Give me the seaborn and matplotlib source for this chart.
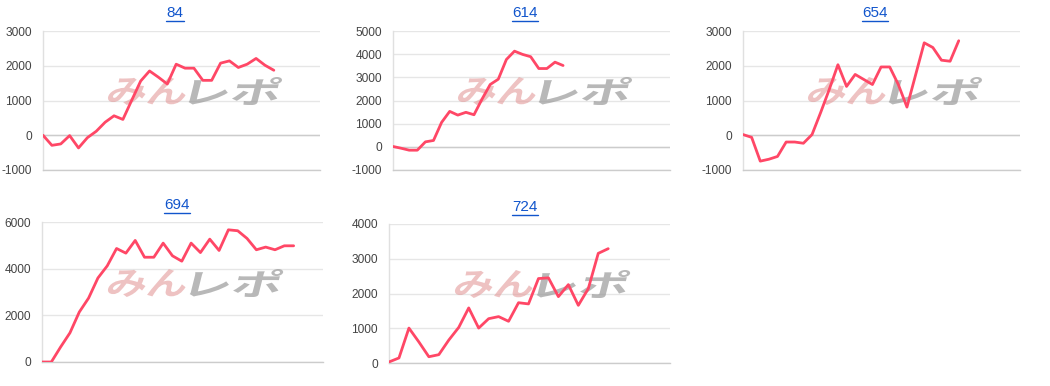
import matplotlib
matplotlib.use('Agg')
import matplotlib.pyplot as plt
import seaborn as sns
import pandas as pd
from matplotlib.textpath import TextPath
from matplotlib.patches import PathPatch
from matplotlib.font_manager import FontProperties
from matplotlib.transforms import Affine2D
from matplotlib.lines import Line2D

# ---- data ----
titles = ['84', '614', '654', '694', '724']
s84 = [0, -290, -250, -10, -365, -70, 115, 375, 560, 455, 1010, 1560, 1850, 1670,
       1475, 2045, 1930, 1930, 1580, 1580, 2075, 2140, 1950, 2045, 2210, 2015, 1870]
s614 = [15, -60, -145, -145, 215, 275, 1055, 1530, 1370, 1490, 1385, 2065, 2690,
        2920, 3770, 4130, 3990, 3890, 3380, 3380, 3655, 3510]
s654 = [20, -60, -745, -690, -610, -195, -195, -230, 20, 655, 1320, 2030, 1405,
        1750, 1605, 1460, 1965, 1965, 1460, 810, 1735, 2660, 2525, 2160, 2130, 2720]
s694 = [0, 0, 645, 1250, 2140, 2740, 3600, 4120, 4865, 4665, 5210, 4490, 4490,
        5095, 4550, 4320, 5095, 4690, 5265, 4780, 5665, 5625, 5295, 4810, 4925,
        4810, 4980, 4980]
s724 = [30, 145, 1005, 605, 180, 240, 660, 1025, 1585, 1005, 1275, 1335, 1200,
        1735, 1700, 2430, 2450, 1910, 2255, 1660, 2140, 3155, 3290]
series = [s84, s614, s654, s694, s724]
yticks = [[-1000, 0, 1000, 2000, 3000],
          [-1000, 0, 1000, 2000, 3000, 4000, 5000],
          [-1000, 0, 1000, 2000, 3000],
          [0, 2000, 4000, 6000],
          [0, 1000, 2000, 3000, 4000]]
xspan = [31.2, 34.2, 32.1, 30.15, 28.2]

# ---- layout (pixels) ----
W, H = 1050, 386
boxes = [(43, 320, 31, 170), (393, 670, 31, 170), (743, 1020, 31, 170),
         (42, 323, 222, 362), (389, 670, 224, 363)]
title_pos = [(175, 13), (525, 13), (875, 13), (177, 205), (525, 207)]

sns.set_theme(style='white')
plt.rcParams['font.family'] = ['Liberation Sans', 'DejaVu Sans']

fig = plt.figure(figsize=(W / 100, H / 100), dpi=100)
fig.patch.set_facecolor('white')

line_color = '#ff4766'
wm_font = FontProperties(family='Noto Sans CJK JP', weight='bold')


def add_logo(ax, text, x_px, y_px, w_px, h_px, axw, axh, color, alpha):
    tp = TextPath((0, 0), text, size=1, prop=wm_font)
    ext = tp.get_extents()
    tr = (Affine2D().translate(-ext.x0, -ext.y0)
          .scale(w_px / ext.width, h_px / ext.height)
          .skew_deg(14, 0)
          .translate(x_px - h_px * 0.12, y_px)
          .scale(1 / axw, 1 / axh))
    path = tr.transform_path(tp)
    patch = PathPatch(path, facecolor=color, edgecolor='none', alpha=alpha,
                      transform=ax.transAxes, zorder=1)
    ax.add_patch(patch)


title_texts = []
for i, (l, r, t, b) in enumerate(boxes):
    ax = fig.add_axes([l / W, 1 - b / H, (r - l) / W, (b - t) / H])
    ys = series[i]
    df = pd.DataFrame({'x': list(range(len(ys))), 'y': ys})
    sns.lineplot(data=df, x='x', y='y', ax=ax, color=line_color, linewidth=2.0,
                 zorder=3)
    ax.set_xlim(0, xspan[i])
    ax.set_ylim(yticks[i][0], yticks[i][-1])
    ax.set_yticks(yticks[i])
    ax.set_yticklabels([str(v) for v in yticks[i]])
    ax.set_xticks([])
    ax.set_xlabel('')
    ax.set_ylabel('')
    ax.tick_params(axis='y', length=0, pad=8, labelsize=8.6, labelcolor='#444444')
    ax.grid(axis='y', color='#e6e6e6', linewidth=1.0)
    ax.set_axisbelow(True)
    for s in ['top', 'right']:
        ax.spines[s].set_visible(False)
    ax.spines['left'].set_color('#e0e0e0')
    ax.spines['left'].set_linewidth(1.0)
    ax.spines['bottom'].set_color('#cccccc')
    ax.spines['bottom'].set_linewidth(1.0)
    if yticks[i][0] < 0:
        ax.axhline(0, color='#cccccc', linewidth=1.0, zorder=2)
    ax.set_facecolor('white')
    axw, axh = r - l, b - t
    add_logo(ax, 'みん', 0.24 * axw, 65, 77, 28, axw, axh, '#e39a9a', 0.6)
    add_logo(ax, 'レポ', 0.535 * axw, 65, 88, 28, axw, axh, '#9a9a9a', 0.7)
    tx, ty = title_pos[i]
    tt = fig.text(tx / W, 1 - ty / H, titles[i], ha='center', va='center',
                  fontsize=11, color='#1155cc')
    title_texts.append(tt)

fig.canvas.draw()
renderer = fig.canvas.get_renderer()
for tt in title_texts:
    bb = tt.get_window_extent(renderer)
    y = bb.y0 - 1
    fig.add_artist(Line2D([bb.x0 / W, bb.x1 / W], [y / H, y / H],
                          transform=fig.transFigure, color='#1155cc', linewidth=1.0))

fig.savefig('out.png', dpi=100, facecolor='white')
